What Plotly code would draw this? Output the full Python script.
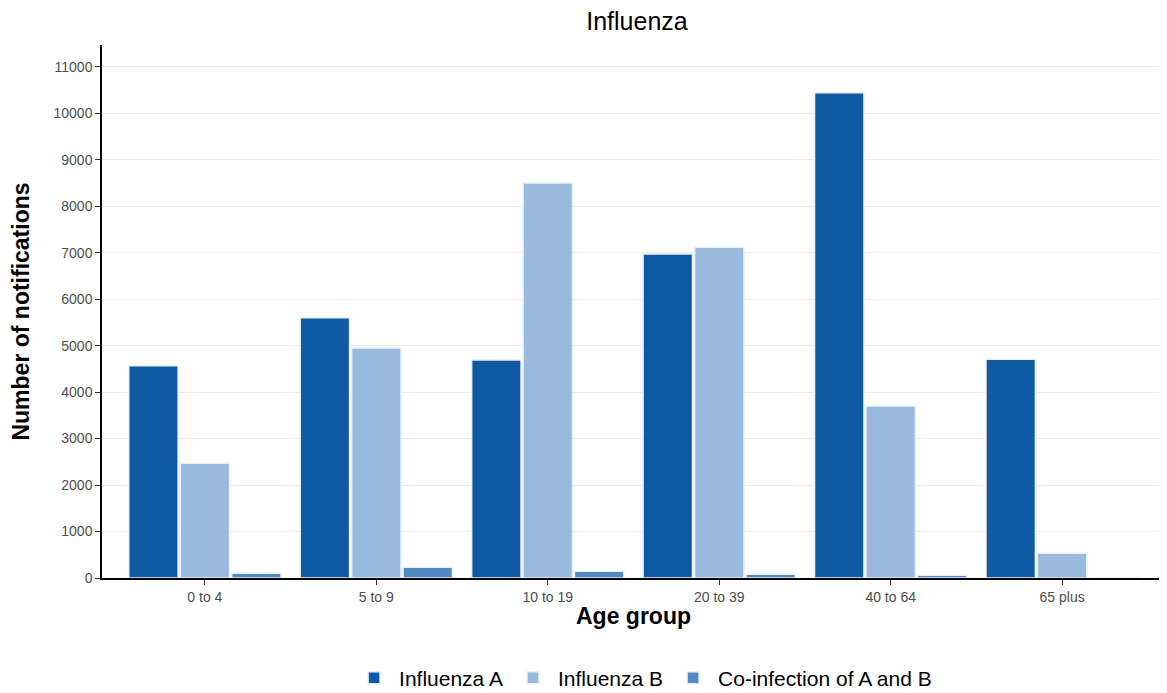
import plotly.graph_objects as go

age_groups = ["0 to 4", "5 to 9", "10 to 19", "20 to 39", "40 to 64", "65 plus"]
influenza_a = [4570, 5600, 4690, 6970, 10440, 4710]
influenza_b = [2470, 4950, 8500, 7120, 3700, 535]
coinfection = [100, 230, 145, 80, 58, 0]

series = [
    ("Influenza A", influenza_a, "#0f5aa2"),
    ("Influenza B", influenza_b, "#9abadd"),
    ("Co-infection of A and B", coinfection, "#5289c1"),
]

fig = go.Figure()
for name, values, colour in series:
    fig.add_trace(go.Bar(
        x=age_groups, y=values, name=name,
        marker=dict(color=colour, line=dict(color="#e8f0f8", width=1.5)),
    ))

# the page body adds an 8px margin, so the figure is 8px smaller than the window
fig.update_layout(
    barmode="group",
    bargap=0.1,
    bargroupgap=0.04,
    width=1159, height=685,
    margin=dict(l=94, r=2, t=37, b=115, autoexpand=False),
    paper_bgcolor="white",
    plot_bgcolor="white",
    font=dict(family="Liberation Sans, Arial, sans-serif", color="#000000"),
    title=dict(text="Influenza", x=0.5427, xanchor="center", y=1 - 13 / 685, yanchor="middle",
               font=dict(size=25, color="#000000")),
    legend=dict(orientation="h", x=0.509, xanchor="center", y=-0.188, yanchor="middle",
                font=dict(size=21, color="#000000"), itemwidth=40),
)

fig.update_xaxes(
    automargin=False,
    showline=True, linecolor="#000000", linewidth=1.5,
    ticks="outside", ticklen=5, tickcolor="#333333",
    tickfont=dict(size=14, color="#4d4d4d"),
    showgrid=False,
    range=[-0.6, 5.6],
    title=dict(text="<b>Age group</b>", font=dict(size=23, color="#000000"), standoff=4),
)
fig.update_yaxes(
    automargin=False,
    showline=True, linecolor="#000000", linewidth=1.5,
    ticks="outside", ticklen=5, tickcolor="#333333",
    tickfont=dict(size=14, color="#4d4d4d"),
    showgrid=True, gridcolor="#ebebeb", gridwidth=1,
    range=[0, 11470], dtick=1000, tick0=0, tickformat="d",
    zeroline=False,
    title=dict(text="<b>Number of notifications</b>", font=dict(size=23, color="#000000"), standoff=20),
)

fig.write_html("out.html")
